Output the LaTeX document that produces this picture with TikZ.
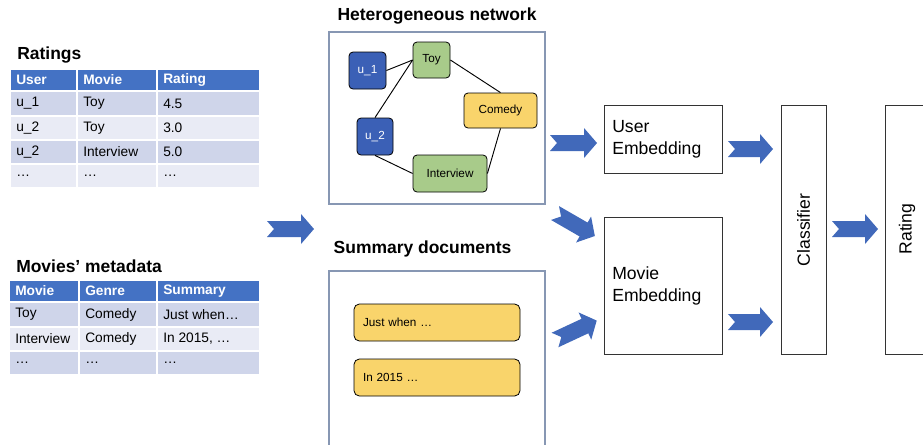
\documentclass[tikz,border=0pt]{standalone}
\usepackage{fontspec}
\setmainfont{Liberation Sans}
\definecolor{hdr}{HTML}{4472C4}
\definecolor{rowd}{HTML}{CFD5EA}
\definecolor{rowl}{HTML}{E9EBF5}
\definecolor{ublue}{HTML}{3B60B6}
\definecolor{mgreen}{HTML}{A8CB8A}
\definecolor{gyel}{HTML}{F9D46B}
\definecolor{boxc}{HTML}{8797B3}
\definecolor{arrblue}{HTML}{4169BA}
\newcommand\tcell[7]{%
  \fill[#5] (#1,#2) rectangle (#3,#4);
  \draw[white,line width=1.3pt] (#1,#2) rectangle (#3,#4);
  \node[tcelltext,#6] at ({#1+6},{(#2+#4)/2}) {#7};}
\newcommand\barr[4]{%
  \fill[arrblue,shift={(#1,#2)},rotate=#3]
    (0,-8) -- ({#4-13},-8) -- ({#4-13},-15) -- (#4,0) -- ({#4-13},15)
    -- ({#4-13},8) -- (0,8) -- (7,0) -- cycle;}
\begin{document}
\begin{tikzpicture}[x=0.75pt,y=-0.75pt,
  tcelltext/.style={anchor=west,inner sep=0pt,font=\fontsize{10.3pt}{12pt}\selectfont},
  hd/.style={text=white,font=\fontsize{10.3pt}{12pt}\selectfont\bfseries},
  title/.style={font=\fontsize{13.1pt}{15pt}\selectfont\bfseries,inner sep=0pt},
  gnode/.style={draw=black,line width=0.6pt,rounded corners=3pt,font=\fontsize{8.8pt}{10pt}\selectfont,inner sep=0pt},
  doc/.style={draw=black,line width=0.6pt,rounded corners=4pt,fill=gyel,font=\fontsize{8.8pt}{10pt}\selectfont,
     inner xsep=6.75pt,text width=111pt,align=left,minimum height=27.75pt},
  frame/.style={draw=boxc,line width=0.8pt},
  blk/.style={draw=black!80,line width=0.7pt},
  btext/.style={font=\fontsize{13.2pt}{16.3pt}\selectfont,align=left,inner sep=0pt},
  edge/.style={line width=0.7pt,draw=black}]
\useasboundingbox (0,0) rectangle (923,444);

% ---- Ratings table
\node[title,anchor=west] (tr) at (17,55) {Ratings};
\tcell{10}{69}{77}{91}{hdr}{hd}{User}
\tcell{77}{69}{157}{91}{hdr}{hd}{Movie}
\tcell{157}{69}{260}{91}{hdr}{hd}{Rating}
\tcell{10}{91}{77}{116}{rowd}{}{u\_1}
\tcell{77}{91}{157}{116}{rowd}{}{Toy}
\tcell{157}{91}{260}{116}{rowd}{}{4.5}
\tcell{10}{116}{77}{140}{rowl}{}{u\_2}
\tcell{77}{116}{157}{140}{rowl}{}{Toy}
\tcell{157}{116}{260}{140}{rowl}{}{3.0}
\tcell{10}{140}{77}{164}{rowd}{}{u\_2}
\tcell{77}{140}{157}{164}{rowd}{}{Interview}
\tcell{157}{140}{260}{164}{rowd}{}{5.0}
\tcell{10}{164}{77}{188}{rowl}{}{…}
\tcell{77}{164}{157}{188}{rowl}{}{…}
\tcell{157}{164}{260}{188}{rowl}{}{…}

% ---- Metadata table
\node[title,anchor=west] (tm) at (16,266) {Movies’ metadata};
\tcell{9}{280}{79}{302}{hdr}{hd}{Movie}
\tcell{79}{280}{157}{302}{hdr}{hd}{Genre}
\tcell{157}{280}{260}{302}{hdr}{hd}{Summary}
\tcell{9}{302}{79}{327}{rowd}{}{Toy}
\tcell{79}{302}{157}{327}{rowd}{}{Comedy}
\tcell{157}{302}{260}{327}{rowd}{}{Just when…}
\tcell{9}{327}{79}{351}{rowl}{}{Interview}
\tcell{79}{327}{157}{351}{rowl}{}{Comedy}
\tcell{157}{327}{260}{351}{rowl}{}{In 2015, …}
\tcell{9}{351}{79}{375}{rowd}{}{…}
\tcell{79}{351}{157}{375}{rowd}{}{…}
\tcell{157}{351}{260}{375}{rowd}{}{…}

% ---- Heterogeneous network
\node[title] (th) at (437,16) {Heterogeneous network};
\draw[frame] (329,32) rectangle (545,204);
\node[gnode,fill=ublue,text=white,minimum width=27.75pt,minimum height=27.75pt] (u1) at (367.5,70.5) {u\_1};
\node[gnode,fill=mgreen,minimum width=27.75pt,minimum height=27pt] (toy) at (431.5,60) {Toy};
\node[gnode,fill=gyel,minimum width=54.75pt,minimum height=26.25pt] (com) at (500.5,110.5) {Comedy};
\node[gnode,fill=ublue,text=white,minimum width=27pt,minimum height=27.75pt] (u2) at (375,136.5) {u\_2};
\node[gnode,fill=mgreen,minimum width=55.5pt,minimum height=27.75pt] (int) at (450,173.5) {Interview};
\draw[edge] (u1.east) -- (toy.west);
\draw[edge] (u2.north) -- (toy.west);
\draw[edge] (toy.east) -- (com.north);
\draw[edge] (com.south) -- (int.east);
\draw[edge] (u2.south) -- (int.west);

% ---- Summary documents
\node[title] (ts) at (422.5,249) {Summary documents};
\draw[frame] (329,460) -- (329,271) -- (545,271) -- (545,460);
\node[doc] (d1) at (437,322.5) {Just when …};
\node[doc] (d2) at (437,377.5) {In 2015 …};

% ---- Right blocks
\draw[blk] (604,105) rectangle (722,173);
\node[btext,anchor=west] (ue) at (612,139.5) {User\\Embedding};
\draw[blk] (604,217) rectangle (722,354);
\node[btext,anchor=west] (me) at (612,286) {Movie\\Embedding};
\draw[blk] (781,105) rectangle (826,354);
\node[btext,rotate=90] (cl) at (803.5,230) {Classifier};
\draw[blk] (885,105) rectangle (940,354);
\node[btext,rotate=90] (ra) at (907,229) {Rating};

% ---- Block arrows
\barr{267}{229}{0}{47}
\barr{550}{143}{0}{47}
\barr{555}{213}{-30}{46}
\barr{555}{340}{25}{46}
\barr{728}{149}{0}{45}
\barr{728}{322}{0}{45}
\barr{832}{229}{0}{46}
\end{tikzpicture}
\end{document}
